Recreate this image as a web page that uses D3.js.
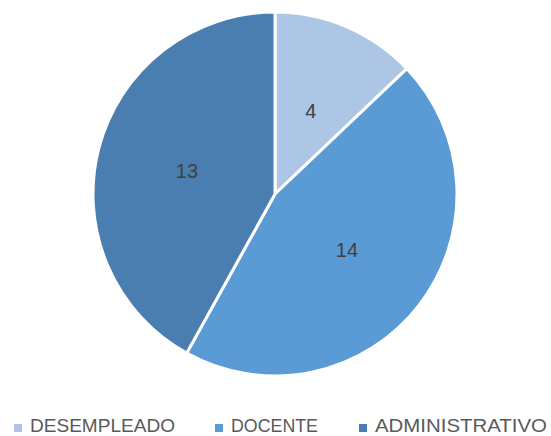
<!DOCTYPE html>
<html>
<head>
<meta charset="utf-8" />
<script src="https://cdn.jsdelivr.net/npm/d3@7"></script>
<style>
  body { margin: 0; background: #fff; }
</style>
</head>
<body>
<div id="chart"></div>
<script>
const categories = ["DESEMPLEADO", "DOCENTE", "ADMINISTRATIVO"];
const values = [4, 14, 13];
const colors = ["#adc6e6", "#5b9bd5", "#4a7eb0"];

const width = 551;
const height = 436;
const cx = 275, cy = 194, radius = 182;

const svg = d3.select("#chart")
    .append("svg")
    .attr("width", width)
    .attr("height", height);

const g = svg.append("g")
    .attr("transform", `translate(${cx}, ${cy})`);

const color = d3.scaleOrdinal().domain(categories).range(colors);

const pie = d3.pie().sort(null).value(d => d[1]);
const dataReady = pie(categories.map((c, i) => [c, values[i]]));

const arc = d3.arc().innerRadius(0).outerRadius(radius);
const labelArc = d3.arc().innerRadius(radius / 2).outerRadius(radius / 2);

g.selectAll("path")
    .data(dataReady)
    .enter()
    .append("path")
    .attr("d", arc)
    .attr("fill", d => color(d.data[0]))
    .attr("stroke", "#fff")
    .style("stroke-width", "3px")
    .style("stroke-linejoin", "round");

g.selectAll("text")
    .data(dataReady)
    .enter()
    .append("text")
    .attr("transform", d => `translate(${labelArc.centroid(d)})`)
    .attr("text-anchor", "middle")
    .attr("dy", "0.36em")
    .attr("font-family", "'Liberation Sans', Arial, sans-serif")
    .attr("font-size", 20)
    .attr("fill", "#404040")
    .text(d => d.data[1]);

// Legend - square left edges and text widths as measured
const legendX = [14, 215, 359];
const legendW = [145, 87, 172];
const legend = svg.append("g")
    .selectAll("g")
    .data(categories)
    .enter()
    .append("g")
    .attr("transform", (d, i) => `translate(${legendX[i]}, 0)`);

legend.append("rect")
    .attr("x", 0)
    .attr("y", 424)
    .attr("width", 8)
    .attr("height", 8)
    .attr("fill", d => color(d));

legend.append("text")
    .attr("x", 16)
    .attr("y", 432)
    .attr("font-family", "'Liberation Sans', Arial, sans-serif")
    .attr("font-size", 18)
    .attr("textLength", (d, i) => legendW[i])
    .attr("lengthAdjust", "spacingAndGlyphs")
    .attr("fill", "#595959")
    .text(d => d);
</script>
</body>
</html>
